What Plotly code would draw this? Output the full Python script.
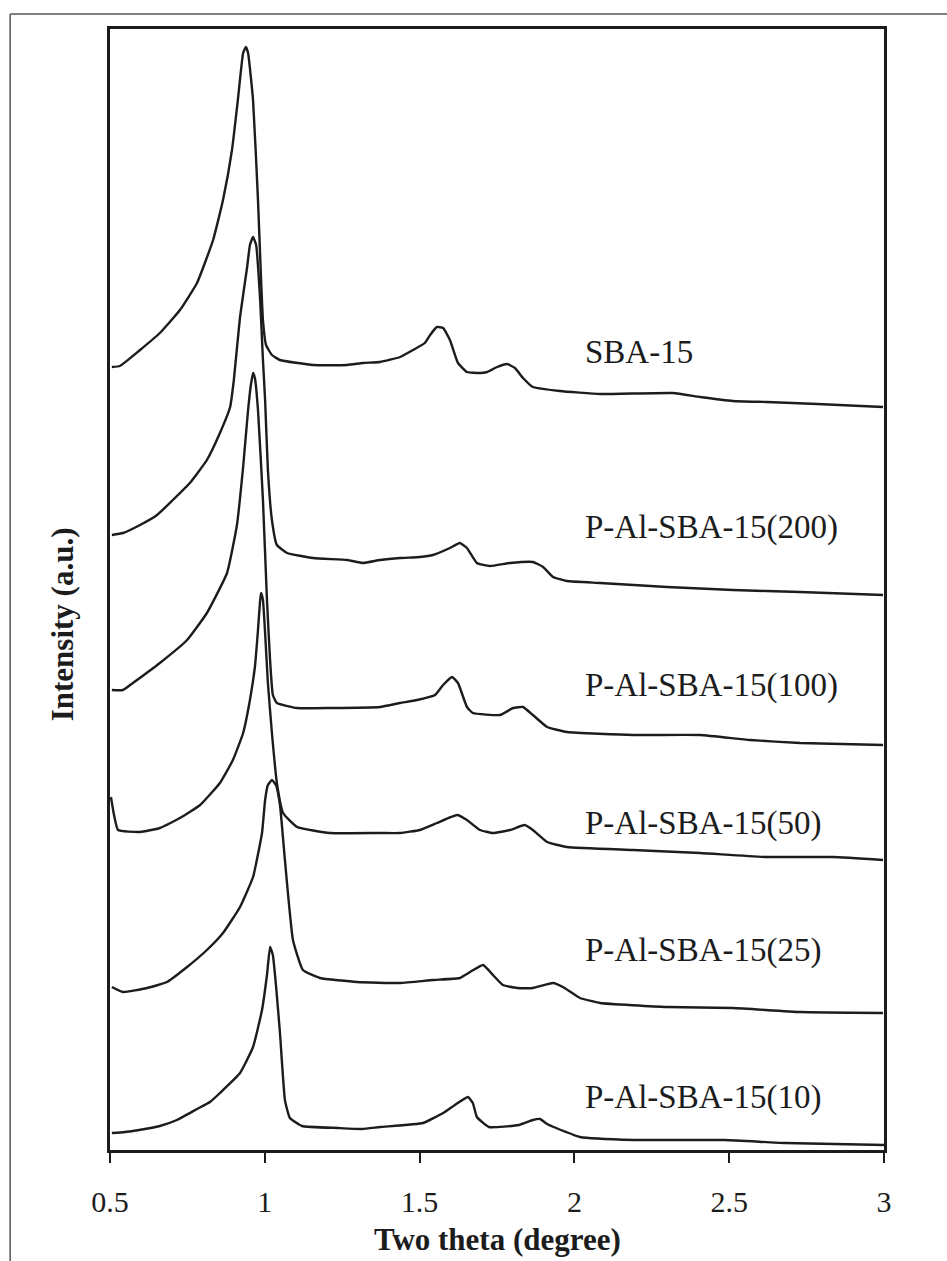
import plotly.graph_objects as go

# Low-angle XRD patterns, 2-theta in degrees, intensity stacked in arbitrary units
sba15_x = [0.506, 0.532, 0.597, 0.661, 0.726, 0.781, 0.833, 0.865, 0.894, 0.913, 0.930, 0.939, 0.946,
           0.962, 0.978, 0.988, 0.994, 1.004, 1.023, 1.049, 1.156, 1.266, 1.317, 1.372, 1.437, 1.479,
           1.517, 1.534, 1.556, 1.576, 1.598, 1.624, 1.653, 1.695, 1.718, 1.750, 1.782, 1.808, 1.834,
           1.866, 1.953, 2.083, 2.318, 2.406, 2.512, 2.622, 2.784, 2.997]
sba15_y = [783, 784, 800, 817, 840, 867, 910, 950, 1000, 1050, 1097, 1103, 1097,
           1050, 950, 870, 830, 805, 795, 790, 785, 785, 787, 788, 793, 800,
           807, 815, 823, 822, 810, 787, 778, 777, 778, 783, 786, 782, 772,
           763, 759, 756, 757, 753, 749, 748, 746, 743]

p200_x = [0.506, 0.542, 0.597, 0.652, 0.703, 0.758, 0.813, 0.855, 0.888, 0.900, 0.920, 0.943, 0.952,
          0.962, 0.972, 0.985, 0.994, 1.001, 1.010, 1.023, 1.039, 1.072, 1.156, 1.266, 1.317, 1.372,
          1.437, 1.501, 1.543, 1.598, 1.630, 1.653, 1.685, 1.727, 1.792, 1.866, 1.899, 1.931, 1.976,
          2.083, 2.299, 2.512, 2.729, 2.997]
p200_y = [615, 617, 625, 635, 650, 667, 690, 717, 743, 770, 833, 883, 905,
          913, 905, 850, 790, 750, 680, 630, 605, 597, 592, 590, 587, 590,
          592, 593, 595, 602, 607, 602, 587, 584, 587, 588, 583, 573, 569,
          567, 563, 560, 558, 555]

p100_x = [0.506, 0.542, 0.574, 0.661, 0.749, 0.813, 0.878, 0.910, 0.930, 0.946, 0.955, 0.962, 0.968,
          0.978, 0.994, 1.007, 1.017, 1.026, 1.039, 1.104, 1.211, 1.372, 1.437, 1.492, 1.550, 1.576,
          1.605, 1.624, 1.653, 1.672, 1.760, 1.802, 1.834, 1.866, 1.912, 1.976, 2.189, 2.406, 2.567,
          2.729, 2.997]
p100_y = [460, 460, 467, 487, 510, 537, 577, 625, 683, 740, 765, 777, 772,
          740, 650, 550, 490, 455, 447, 442, 442, 443, 447, 450, 455, 465,
          473, 467, 443, 437, 435, 442, 443, 435, 423, 418, 415, 415, 410,
          407, 405]

p50_x = [0.503, 0.513, 0.526, 0.597, 0.661, 0.726, 0.791, 0.855, 0.897, 0.930, 0.952, 0.968, 0.978,
         0.985, 0.988, 0.994, 1.001, 1.010, 1.023, 1.039, 1.059, 1.104, 1.211, 1.372, 1.437, 1.501,
         1.556, 1.621, 1.653, 1.695, 1.737, 1.792, 1.840, 1.866, 1.912, 1.976, 2.189, 2.406, 2.622,
         2.835, 2.997]
p50_y = [353, 335, 320, 318, 322, 332, 345, 367, 390, 417, 450, 483, 520,
         550, 557, 550, 517, 467, 417, 367, 337, 323, 317, 317, 317, 320,
         327, 335, 330, 320, 317, 320, 325, 320, 308, 303, 300, 297, 293,
         293, 290]

p25_x = [0.506, 0.542, 0.620, 0.684, 0.749, 0.813, 0.865, 0.920, 0.962, 0.991, 1.001, 1.010, 1.023,
         1.036, 1.049, 1.065, 1.091, 1.123, 1.178, 1.298, 1.437, 1.543, 1.630, 1.663, 1.705, 1.737,
         1.769, 1.815, 1.866, 1.931, 1.963, 2.018, 2.083, 2.299, 2.512, 2.729, 2.997]
p25_y = [163, 158, 162, 168, 183, 200, 217, 243, 273, 317, 350, 365, 370,
         365, 345, 290, 210, 180, 172, 168, 167, 170, 172, 178, 185, 175,
         165, 162, 162, 167, 163, 152, 147, 143, 142, 138, 137]

p10_x = [0.506, 0.548, 0.594, 0.661, 0.716, 0.781, 0.823, 0.855, 0.920, 0.962, 0.991, 1.007, 1.017,
         1.026, 1.036, 1.049, 1.065, 1.081, 1.120, 1.236, 1.314, 1.372, 1.511, 1.576, 1.614, 1.656,
         1.672, 1.685, 1.724, 1.821, 1.866, 1.889, 1.912, 1.941, 2.018, 2.193, 2.486, 2.680, 3.000]
p10_y = [17, 18, 20, 24, 30, 41, 48, 57, 77, 103, 140, 175, 203,
         195, 165, 117, 50, 32, 24, 22, 21, 23, 27, 37, 45, 53,
         47, 33, 23, 25, 30, 31, 26, 22, 13, 10, 10, 7, 5]

sample_names = ["SBA-15", "P-Al-SBA-15(200)", "P-Al-SBA-15(100)",
                "P-Al-SBA-15(50)", "P-Al-SBA-15(25)", "P-Al-SBA-15(10)"]
series_x = [sba15_x, p200_x, p100_x, p50_x, p25_x, p10_x]
series_y = [sba15_y, p200_y, p100_y, p50_y, p25_y, p10_y]
label_level = [798, 623, 465, 327, 200, 53]
label_theta = 2.028

x_ticks = [0.5, 1, 1.5, 2, 2.5, 3]
x_tick_text = ["0.5", "1", "1.5", "2", "2.5", "3"]

SERIF = "Liberation Serif, Times New Roman, serif"
INK = "#1c1c1c"

fig = go.Figure()
for name, xs, ys in zip(sample_names, series_x, series_y):
    fig.add_trace(go.Scatter(x=xs, y=ys, mode="lines", name=name,
                             line=dict(color=INK, width=2.4, shape="spline", smoothing=0.4),
                             showlegend=False, hoverinfo="skip"))

for name, lvl in zip(sample_names, label_level):
    fig.add_annotation(x=label_theta, y=lvl, text=name, showarrow=False,
                       xanchor="left", yanchor="middle",
                       font=dict(family=SERIF, size=33, color=INK))

# axis titles
fig.add_annotation(xref="paper", yref="paper", x=0.5, y=-0.08, text="<b>Two theta (degree)</b>",
                   showarrow=False, xanchor="center", yanchor="middle",
                   font=dict(family=SERIF, size=31, color=INK))
fig.add_annotation(xref="paper", yref="paper", x=-0.062, y=0.469, text="<b>Intensity (a.u.)</b>",
                   showarrow=False, textangle=-90, xanchor="center", yanchor="middle",
                   font=dict(family=SERIF, size=31, color=INK))

# outer frame edges
fig.add_shape(type="line", xref="paper", yref="paper", x0=-0.129, x1=1.09, y0=1.0134, y1=1.0134,
              line=dict(color="#555555", width=1.5))
fig.add_shape(type="line", xref="paper", yref="paper", x0=-0.129, x1=-0.129, y0=1.0134, y1=-0.11,
              line=dict(color="#555555", width=1.5))

fig.update_xaxes(range=[0.5, 3.0], tickvals=x_ticks, ticktext=x_tick_text,
                 ticks="outside", ticklen=10, tickwidth=1.5, tickcolor=INK,
                 showline=True, linewidth=2.5, linecolor=INK, mirror=True,
                 showgrid=False, zeroline=False, ticklabelstandoff=13,
                 tickfont=dict(family=SERIF, size=30, color=INK))
fig.update_yaxes(range=[0, 1121], showticklabels=False, ticks="",
                 showline=True, linewidth=2.5, linecolor=INK, mirror=True,
                 showgrid=False, zeroline=False)

fig.update_layout(width=947, height=1261,
                  margin=dict(l=110, r=63, t=29, b=111),
                  paper_bgcolor="white", plot_bgcolor="white")

fig.write_html("out.html")
